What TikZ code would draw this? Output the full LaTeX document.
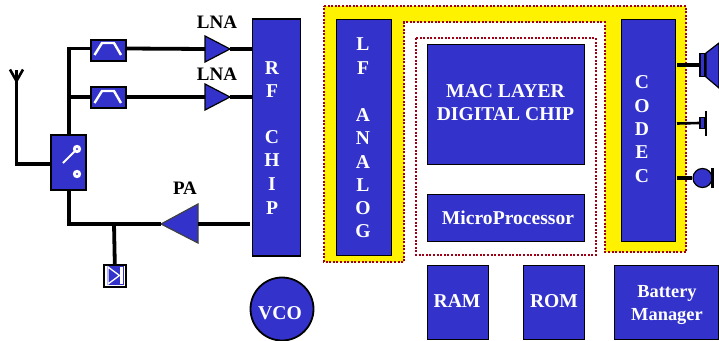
\documentclass[tikz,border=0pt]{standalone}
\usepackage{fontspec}
\setmainfont{Liberation Serif}
\definecolor{chipblue}{RGB}{51,51,204}
\definecolor{dotred}{RGB}{160,0,20}
\tikzset{
  x=1pt,y=-1pt,
  chip/.style={draw=black,line width=1.8pt,fill=chipblue,inner sep=0pt,anchor=north west},
  chiptxt/.style={font=\bfseries\fontsize{19.6}{23}\selectfont,text=white,align=center,inner sep=0pt},
  wire/.style={draw=black,line width=3.8pt},
  thinwire/.style={draw=black,line width=2.6pt},
  dots/.style={draw=dotred,line width=2pt,dash pattern=on 2pt off 1.6pt},
  lbl/.style={font=\bfseries\fontsize{19}{21}\selectfont,text=black,inner sep=0pt},
  ico/.style={draw=white,line width=2.4pt},
  tri/.style={draw=black,line width=1.2pt,fill=chipblue}
}
\newcommand{\vtxt}[3]{\node[chiptxt] (#1) at (#2) {#3};}
\begin{document}
\begin{tikzpicture}
\useasboundingbox (0,0) rectangle (719,340);
% yellow regions
\fill[yellow] (324,6) -- (686,6) -- (686,252) -- (605,252) -- (605,22) -- (404,22) -- (404,262) -- (324,262) -- cycle;
\draw[dots] (324,6) -- (686,6) -- (686,252) -- (605,252) -- (605,22) -- (404,22) -- (404,262) -- (324,262) -- cycle;
\draw[dots] (416,38) rectangle (596,255);
% chips
\node[chip,minimum width=48pt,minimum height=237pt] (rf) at (251.5,18) {};
\node[chip,minimum width=55pt,minimum height=236pt] (lf) at (335.5,18.5) {};
\node[chip,minimum width=54pt,minimum height=222pt] (codec) at (620.5,18.5) {};
\node[chip,minimum width=157pt,minimum height=120pt] (mac) at (426.5,43.5) {};
\node[chiptxt] (mactxt) at (505.5,102.5) {MAC LAYER\\DIGITAL CHIP};
\node[chip,minimum width=157pt,minimum height=47pt] (mp) at (426.5,193.5) {};
\node[chiptxt] (mptxt) at (508,218) {MicroProcessor};
\node[chip,minimum width=61pt,minimum height=74pt] (ram) at (426.5,264.5) {};
\node[chiptxt] (ramtxt) at (457,301) {RAM};
\node[chip,minimum width=61pt,minimum height=74pt] (rom) at (522.5,264.5) {};
\node[chiptxt] (romtxt) at (554,301) {ROM};
\node[chip,minimum width=104pt,minimum height=74pt] (bat) at (613.5,264.5) {};
\node[chiptxt,font=\bfseries\fontsize{18.4}{23}\selectfont] (battxt) at (667,305) {Battery\\Manager};
\node[circle,draw=black,line width=1.8pt,fill=chipblue,minimum size=63pt,inner sep=0pt] (vco) at (282,309) {};
\node[chiptxt] (vcotxt) at (280,313.5) {VCO};
% vertical letters
\vtxt{r1}{272,68}{R}\vtxt{r2}{272,91}{F}
\vtxt{r3}{272,137}{C}\vtxt{r4}{272,160}{H}\vtxt{r5}{272,184}{I}\vtxt{r6}{272,208}{P}
\vtxt{l1}{363,44}{L}\vtxt{l2}{363,68}{F}
\vtxt{l3}{363,115}{A}\vtxt{l4}{363,138}{N}\vtxt{l5}{363,162}{A}\vtxt{l6}{363,185}{L}\vtxt{l7}{363,208}{O}\vtxt{l8}{363,231}{G}
\vtxt{c1}{642,82}{C}\vtxt{c2}{642,106}{O}\vtxt{c3}{642,129}{D}\vtxt{c4}{642,152}{E}\vtxt{c5}{642,176}{C}
% switch
\node[chip,minimum width=35pt,minimum height=55pt] (sw) at (50,134) {};
\coordinate (sa) at (77,149);
\coordinate (sb) at (77,174);
\draw[ico,line width=1.8pt] (63,163) -- (sa);
\fill[white] (sa) circle (4.2pt) (sb) circle (4.2pt);
\fill[chipblue] (sa) circle (1.2pt) (sb) circle (1.2pt);
% filters
\node[chip,minimum width=35pt,minimum height=21pt] (f1) at (90,39) {};
\node[chip,minimum width=35pt,minimum height=21pt] (f2) at (90,86) {};
\draw[ico] (94.5,55) -- (102,43) -- (114,43) -- (121,55);
\draw[ico] (94.5,103) -- (102,91) -- (114,91) -- (121,103);
% LNAs
\draw[tri] (205,36) -- (230,49) -- (205,62) -- cycle;
\draw[tri] (205,84) -- (230,97) -- (205,110) -- cycle;
\coordinate (lna1in) at (205,49); \coordinate (lna1out) at (230,49);
\coordinate (lna2in) at (205,97); \coordinate (lna2out) at (230,97);
\node[lbl] (lna1) at (217,22) {LNA};
\node[lbl] (lna2) at (217,74) {LNA};
% PA
\draw[tri,draw=black!75] (198,204) -- (161,224) -- (198,243) -- cycle;
\coordinate (pain) at (198,224); \coordinate (paout) at (161,224);
\node[lbl] (pa) at (185,188) {PA};
% wires
\coordinate (ant) at (16.5,70);
\coordinate (j1) at (69,97);
\coordinate (j2) at (69,224);
\coordinate (j3) at (114,224);
\draw[wire,line join=miter] (ant) -- (16.5,164) -- (50,164);
\draw[thinwire] (10,69.5) -- (16.5,81) -- (23,69.5);
\draw[wire,line join=miter] (69,134) -- (69,48.5) -- (90,48.5);
\draw[wire] (j1) -- (90,97);
\draw[wire] (127,48.5) -- (lna1in);
\draw[wire] (127,97) -- (lna2in);
\draw[wire] (lna1out) -- (252,49);
\draw[wire] (lna2out) -- (252,97);
\draw[wire,line join=miter] (69,189) -- (j2) -- (paout);
\draw[wire] (pain) -- (250,224);
\node[draw=black,line width=1.6pt,fill=white,minimum size=22pt,inner sep=0pt,anchor=north west] (diode) at (103,264) {};
\draw[wire] (j3) -- (diode.north);
\fill[chipblue] (105,266) rectangle (124,285);
\fill[white] (105,266) rectangle (107,285);
\draw[white,line width=1.3pt,fill=chipblue] (108,267) -- (119.5,275.5) -- (108,284) -- cycle;
\fill[white] (119.5,267) rectangle (123,284);
% speaker
\node[draw=black,line width=1.4pt,fill=chipblue,minimum width=5pt,minimum height=23pt,inner sep=0pt] (spk) at (702.5,65) {};
\draw[tri] (706,53) -- (719,43) -- (719,88) -- (706,77) -- cycle;
\draw[wire] (677,65) -- (spk.west);
% earphone
\node[draw=black,line width=1.4pt,fill=chipblue,minimum width=5pt,minimum height=11pt,inner sep=0pt] (ear) at (702.5,123) {};
\draw[thinwire] (677,123.5) -- (ear.west);
\draw[thinwire] (706,111) -- (706,136);
% mic
\node[circle,draw=black,line width=1.2pt,fill=chipblue,minimum size=19pt,inner sep=0pt] (mic) at (702.5,178) {};
\draw[wire] (677,178) -- (mic.west);
\draw[wire] (712.5,168) -- (712.5,188);
\end{tikzpicture}
\end{document}
